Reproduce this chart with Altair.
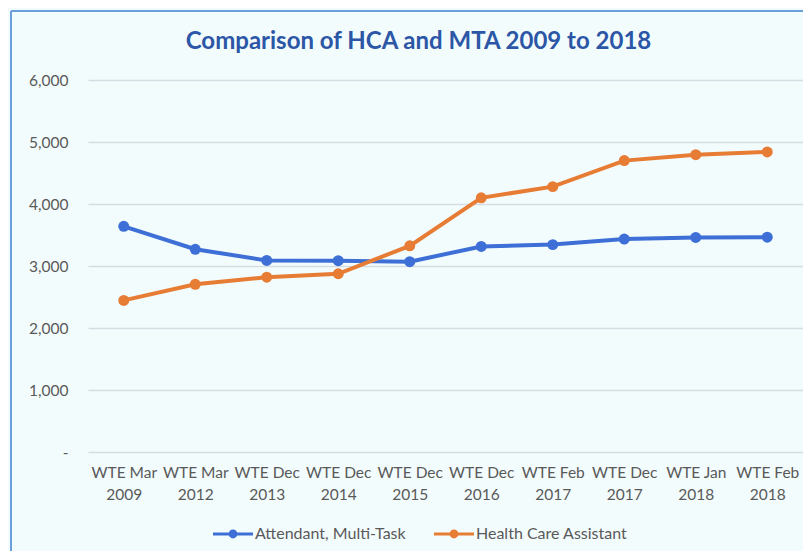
import altair as alt
import pandas as pd

categories = ["WTE Mar 2009", "WTE Mar 2012", "WTE Dec 2013", "WTE Dec 2014", "WTE Dec 2015",
              "WTE Dec 2016", "WTE Feb 2017", "WTE Dec 2017", "WTE Jan 2018", "WTE Feb 2018"]
series_names = ["Attendant, Multi-Task", "Health Care Assistant"]
mta_values = [3640, 3270, 3090, 3085, 3070, 3315, 3345, 3435, 3460, 3465]
hca_values = [2445, 2705, 2820, 2875, 3325, 4100, 4280, 4700, 4795, 4840]
y_ticks = [0, 1000, 2000, 3000, 4000, 5000, 6000]
colors = ["#3D6FD6", "#E77C34"]

rows = []
for c, v in zip(categories, mta_values):
    rows.append({"period": c, "series": series_names[0], "value": v})
for c, v in zip(categories, hca_values):
    rows.append({"period": c, "series": series_names[1], "value": v})
df = pd.DataFrame(rows)

FONT = "Lato"
LABEL_COLOR = "#595959"

x_enc = alt.X("period:N", sort=categories, title=None,
              scale=alt.Scale(padding=0.5),
              axis=alt.Axis(labelAngle=0, domain=False, ticks=False, grid=False,
                            labelPadding=13, labelLineHeight=22,
                            labelExpr="[slice(datum.label, 0, 7), slice(datum.label, 8)]",
                            labelFont=FONT, labelFontSize=15.5, labelColor=LABEL_COLOR))
y_enc = alt.Y("value:Q", title=None,
              scale=alt.Scale(domain=[0, 6000], nice=False),
              axis=alt.Axis(values=y_ticks, domain=False, ticks=False,
                            gridColor="#D5DCE4", gridWidth=1.5,
                            labelPadding=20,
                            labelExpr="datum.value == 0 ? '-\u00a0\u00a0\u00a0' : format(datum.value, ',')",
                            labelFont=FONT, labelFontSize=15.5, labelColor=LABEL_COLOR))
color_scale = alt.Scale(domain=series_names, range=colors)

legend_symbol = ("M-1,-0.075H1V0.075H-1Z "
                 "M-0.22,0A0.22,0.22 0 1 1 0.22,0A0.22,0.22 0 1 1 -0.22,0Z")
legend = alt.Legend(title=None, orient="none", direction="horizontal",
                    columns=2, legendX=125, legendY=434,
                    symbolType=legend_symbol, symbolSize=1600,
                    symbolStrokeWidth=0, symbolOpacity=1,
                    labelOffset=2, columnPadding=28,
                    labelFont=FONT, labelFontSize=16,
                    labelColor=LABEL_COLOR)

lines = alt.Chart(df).mark_line(strokeWidth=4).encode(
    x=x_enc, y=y_enc,
    color=alt.Color("series:N", scale=color_scale, sort=series_names, legend=legend),
)

points = alt.Chart(df).mark_point(filled=True, size=120, opacity=1).encode(
    x=x_enc, y=y_enc,
    color=alt.Color("series:N", scale=color_scale, sort=series_names, legend=legend),
)

border_df = pd.DataFrame({"a": [0]})
left_border = alt.Chart(border_df).mark_rule(color="#6A9FDB", strokeWidth=2).encode(
    x=alt.value(-77), y=alt.value(-69), y2=alt.value(472))
top_border = alt.Chart(border_df).mark_rule(color="#6A9FDB", strokeWidth=2).encode(
    y=alt.value(-69), x=alt.value(-77), x2=alt.value(716))

chart = alt.layer(lines, points, left_border, top_border).properties(
    width=715, height=372,
    autosize=alt.AutoSizeParams(type="none"),
    padding={"left": 80, "top": 72, "right": 0, "bottom": 99},
    background="#F3FCFD",
    title=alt.TitleParams("Comparison of HCA and MTA 2009 to 2018",
                          font=FONT, fontSize=24, fontWeight="bold", color="#2C56A6",
                          anchor="middle", frame="group", dx=-27, offset=-63,
                          baseline="alphabetic"),
).configure_view(stroke=None)

chart.save("out.html", embed_options={"renderer": "svg", "actions": False})
